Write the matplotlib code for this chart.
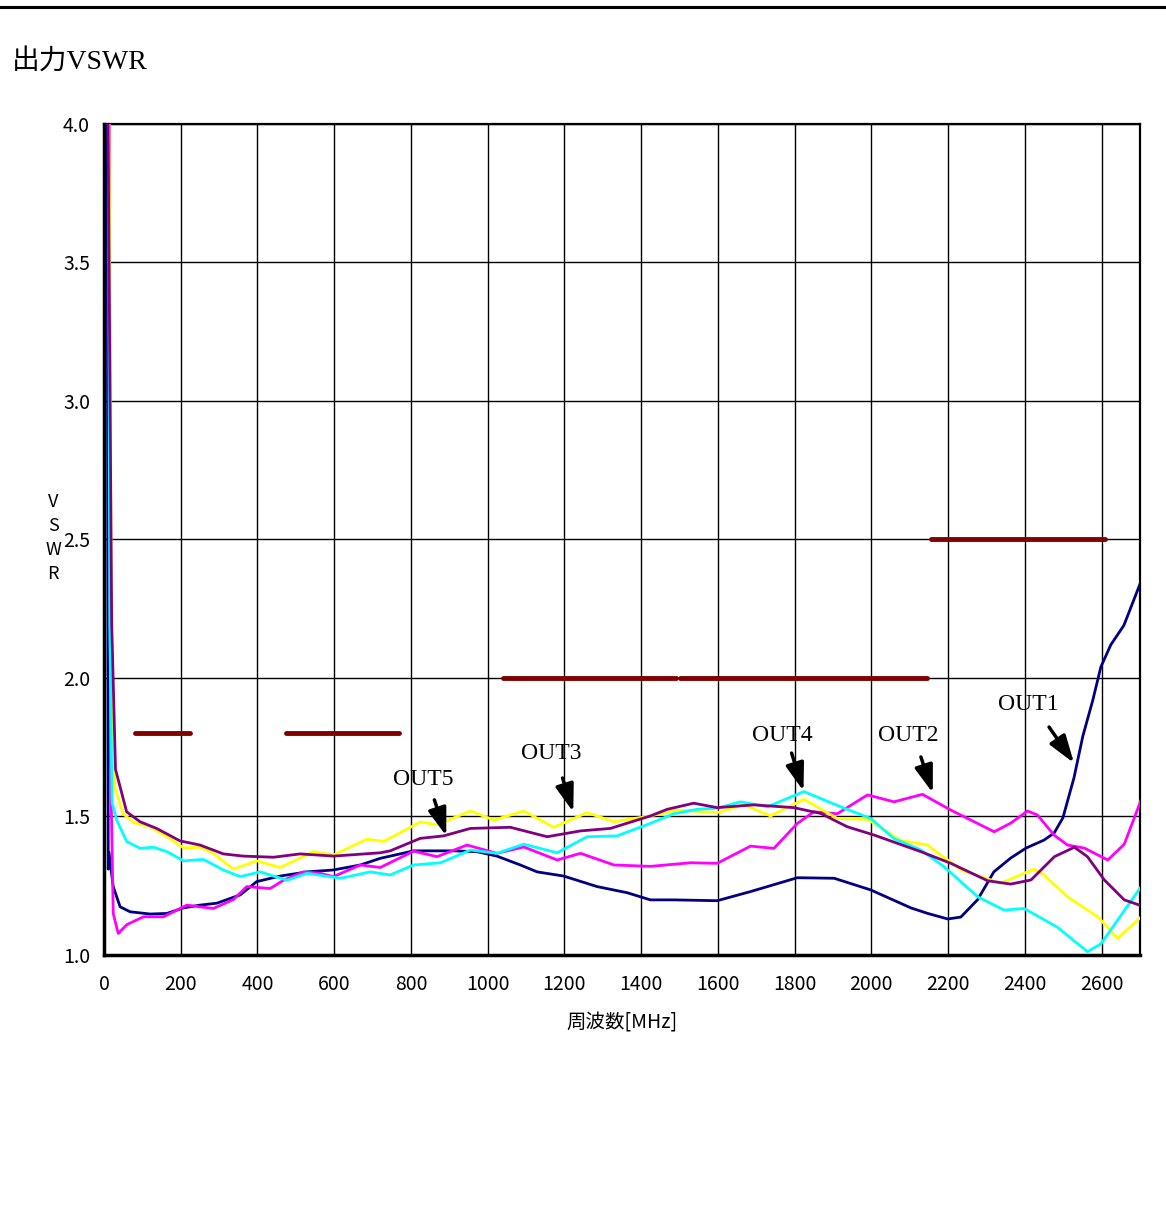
import matplotlib

matplotlib.use("Agg")
import matplotlib.pyplot as plt
from matplotlib.lines import Line2D

# --- data (frequency in MHz, VSWR) ---
out1_f = [8, 11, 13, 24, 42, 68, 120, 164, 207, 250, 294, 355, 398, 459, 529,
          598, 668, 720, 807, 911, 972, 1024, 1085, 1129, 1198, 1285, 1363,
          1424, 1485, 1598, 1685, 1807, 1903, 1998, 2103, 2147, 2199, 2233,
          2277, 2319, 2363, 2403, 2450, 2476, 2499, 2512, 2528, 2551, 2577,
          2598, 2624, 2658, 2703]
out1_v = [4.3, 1.31, 1.37, 1.247, 1.174, 1.156, 1.148, 1.15, 1.17, 1.18,
          1.187, 1.217, 1.265, 1.285, 1.30, 1.307, 1.325, 1.349, 1.376, 1.376,
          1.373, 1.357, 1.325, 1.30, 1.285, 1.247, 1.225, 1.199, 1.199, 1.196,
          1.229, 1.279, 1.277, 1.235, 1.17, 1.15, 1.13, 1.137, 1.20, 1.30,
          1.35, 1.386, 1.415, 1.44, 1.495, 1.56, 1.64, 1.79, 1.92, 2.04, 2.12,
          2.19, 2.35]

out2_f = [14, 17, 24, 37, 60, 103, 155, 216, 285, 337, 372, 433, 468, 520, 563,
          598, 668, 720, 807, 868, 946, 1024, 1094, 1181, 1242, 1329, 1424,
          1529, 1598, 1685, 1746, 1807, 1850, 1911, 1990, 2059, 2133, 2207,
          2320, 2363, 2407, 2433, 2476, 2511, 2555, 2616, 2659, 2703]
out2_v = [4.3, 1.7, 1.15, 1.078, 1.11, 1.138, 1.138, 1.18, 1.168, 1.20, 1.247,
          1.24, 1.27, 1.30, 1.295, 1.283, 1.325, 1.316, 1.375, 1.355, 1.397,
          1.367, 1.39, 1.343, 1.367, 1.325, 1.32, 1.333, 1.331, 1.393, 1.385,
          1.475, 1.517, 1.51, 1.578, 1.553, 1.58, 1.523, 1.445, 1.476, 1.52,
          1.505, 1.433, 1.397, 1.386, 1.343, 1.40, 1.56]

out3_f = [12, 20, 29, 50, 77, 120, 164, 207, 250, 285, 337, 398, 459, 546, 598,
          685, 729, 824, 868, 955, 1016, 1094, 1172, 1259, 1329, 1424, 1494,
          1598, 1668, 1737, 1824, 1911, 1990, 2077, 2146, 2233, 2337, 2424,
          2450, 2511, 2590, 2642, 2703]
out3_v = [4.3, 2.0, 1.6, 1.51, 1.478, 1.463, 1.427, 1.387, 1.389, 1.367, 1.31,
          1.34, 1.316, 1.373, 1.361, 1.418, 1.41, 1.48, 1.47, 1.52, 1.487,
          1.52, 1.461, 1.514, 1.481, 1.502, 1.523, 1.514, 1.542, 1.502, 1.562,
          1.493, 1.49, 1.413, 1.397, 1.307, 1.259, 1.31, 1.289, 1.21, 1.138,
          1.06, 1.138]

out4_f = [11, 15, 21, 33, 59, 94, 129, 164, 207, 259, 311, 355, 407, 477, 529,
          616, 694, 746, 807, 877, 955, 1024, 1094, 1181, 1259, 1337, 1424,
          1485, 1546, 1598, 1659, 1729, 1824, 1920, 1998, 2059, 2129, 2189,
          2277, 2346, 2398, 2485, 2563, 2598, 2703]
out4_v = [4.3, 2.2, 1.55, 1.487, 1.41, 1.385, 1.389, 1.373, 1.34, 1.345,
          1.307, 1.283, 1.30, 1.27, 1.295, 1.277, 1.30, 1.289, 1.325, 1.333,
          1.379, 1.367, 1.40, 1.369, 1.427, 1.43, 1.475, 1.51, 1.526, 1.53,
          1.553, 1.535, 1.59, 1.535, 1.493, 1.42, 1.379, 1.319, 1.21, 1.162,
          1.168, 1.10, 1.012, 1.04, 1.247]

out5_f = [9, 20, 30, 59, 94, 137, 198, 250, 311, 363, 442, 511, 598, 720, 746,
          824, 885, 955, 1059, 1155, 1242, 1320, 1424, 1468, 1537, 1598, 1694,
          1798, 1868, 1937, 2007, 2129, 2207, 2303, 2363, 2416, 2477, 2529,
          2563, 2607, 2659, 2703]
out5_v = [4.3, 2.2, 1.67, 1.517, 1.481, 1.457, 1.412, 1.397, 1.365, 1.357,
          1.353, 1.365, 1.357, 1.369, 1.376, 1.421, 1.43, 1.457, 1.461, 1.427,
          1.448, 1.457, 1.502, 1.526, 1.548, 1.532, 1.542, 1.532, 1.511,
          1.463, 1.433, 1.373, 1.331, 1.268, 1.256, 1.271, 1.355, 1.389,
          1.355, 1.271, 1.199, 1.178]

# spec limit segments
spec_start = [80, 475, 1040, 1500, 2155]
spec_end = [225, 770, 1490, 2145, 2610]
spec_val = [1.8, 1.8, 2.0, 2.0, 2.5]

x_ticks = list(range(0, 2700, 200))
y_ticks = [1.0, 1.5, 2.0, 2.5, 3.0, 3.5, 4.0]

NAVY = "#000080"
MAGENTA = "#ff00ff"
YELLOW = "#ffff00"
CYAN = "#00ffff"
PURPLE = "#800080"
SPEC = "#800000"

SERIF = ["Liberation Serif", "Noto Sans CJK JP"]
GOTHIC = ["Noto Sans CJK JP", "DejaVu Sans"]

W, H = 1166, 1212
fig = plt.figure(figsize=(W / 100, H / 100), dpi=100)
ax = fig.add_axes([104 / W, 1 - 955 / H, (1140 - 104) / W, (955 - 124) / H])

# top rule of the page
fig.add_artist(Line2D([0, 1], [1 - 7 / H, 1 - 7 / H], color="black",
                      linewidth=2.2, transform=fig.transFigure))
fig.text(12 / W, 1 - 62 / H, "出力VSWR", fontsize=20, family=SERIF,
         va="center", ha="left")

ax.set_xlim(0, 2700)
ax.set_ylim(1.0, 4.0)
ax.set_xticks(x_ticks)
ax.set_yticks(y_ticks)
ax.set_xticklabels([str(t) for t in x_ticks], family=GOTHIC, fontsize=14)
ax.set_yticklabels([f"{t:.1f}" for t in y_ticks], family=GOTHIC, fontsize=14)
ax.tick_params(axis="x", length=0, pad=14)
ax.tick_params(axis="y", length=0, pad=10)
ax.grid(True, color="black", linewidth=1.0, zorder=0)
for side in ("left", "bottom"):
    ax.spines[side].set_linewidth(2.5)
for side in ("top", "right"):
    ax.spines[side].set_linewidth(1.6)

for f, v, c in [(out1_f, out1_v, NAVY), (out2_f, out2_v, MAGENTA),
                (out3_f, out3_v, YELLOW), (out4_f, out4_v, CYAN),
                (out5_f, out5_v, PURPLE)]:
    ax.plot(f, v, color=c, linewidth=2.0, zorder=3)

for s, e, v in zip(spec_start, spec_end, spec_val):
    ax.plot([s, e], [v, v], color=SPEC, linewidth=3.5,
            solid_capstyle="round", zorder=4)

# labels with arrows: (text, text pos, arrow tail, arrow tip)
notes = [
    ("OUT5", (832, 1.635), (861, 1.56), (892, 1.43)),
    ("OUT3", (1166, 1.726), (1195, 1.639), (1223, 1.516)),
    ("OUT4", (1769, 1.794), (1792, 1.729), (1823, 1.592)),
    ("OUT2", (2097, 1.794), (2129, 1.715), (2160, 1.585)),
    ("OUT1", (2410, 1.903), (2463, 1.823), (2528, 1.693)),
]
for label, tpos, tail, tip in notes:
    ax.text(*tpos, label, family=SERIF, fontsize=17, ha="center",
            va="center", zorder=5)
    ax.annotate("", xy=tip, xytext=tail,
                arrowprops=dict(arrowstyle="-|>,head_length=1.2,head_width=0.4",
                                color="black", lw=2.5, mutation_scale=14,
                                shrinkA=0, shrinkB=0), zorder=5)

ax.set_xlabel("周波数[MHz]", family=GOTHIC, fontsize=14, labelpad=12)
fig.text(53 / W, 1 - 538 / H, "V\nS\nW\nR", family=GOTHIC, fontsize=13,
         ha="center", va="center", linespacing=1.45)

fig.savefig("out.png", dpi=100, facecolor="white")
